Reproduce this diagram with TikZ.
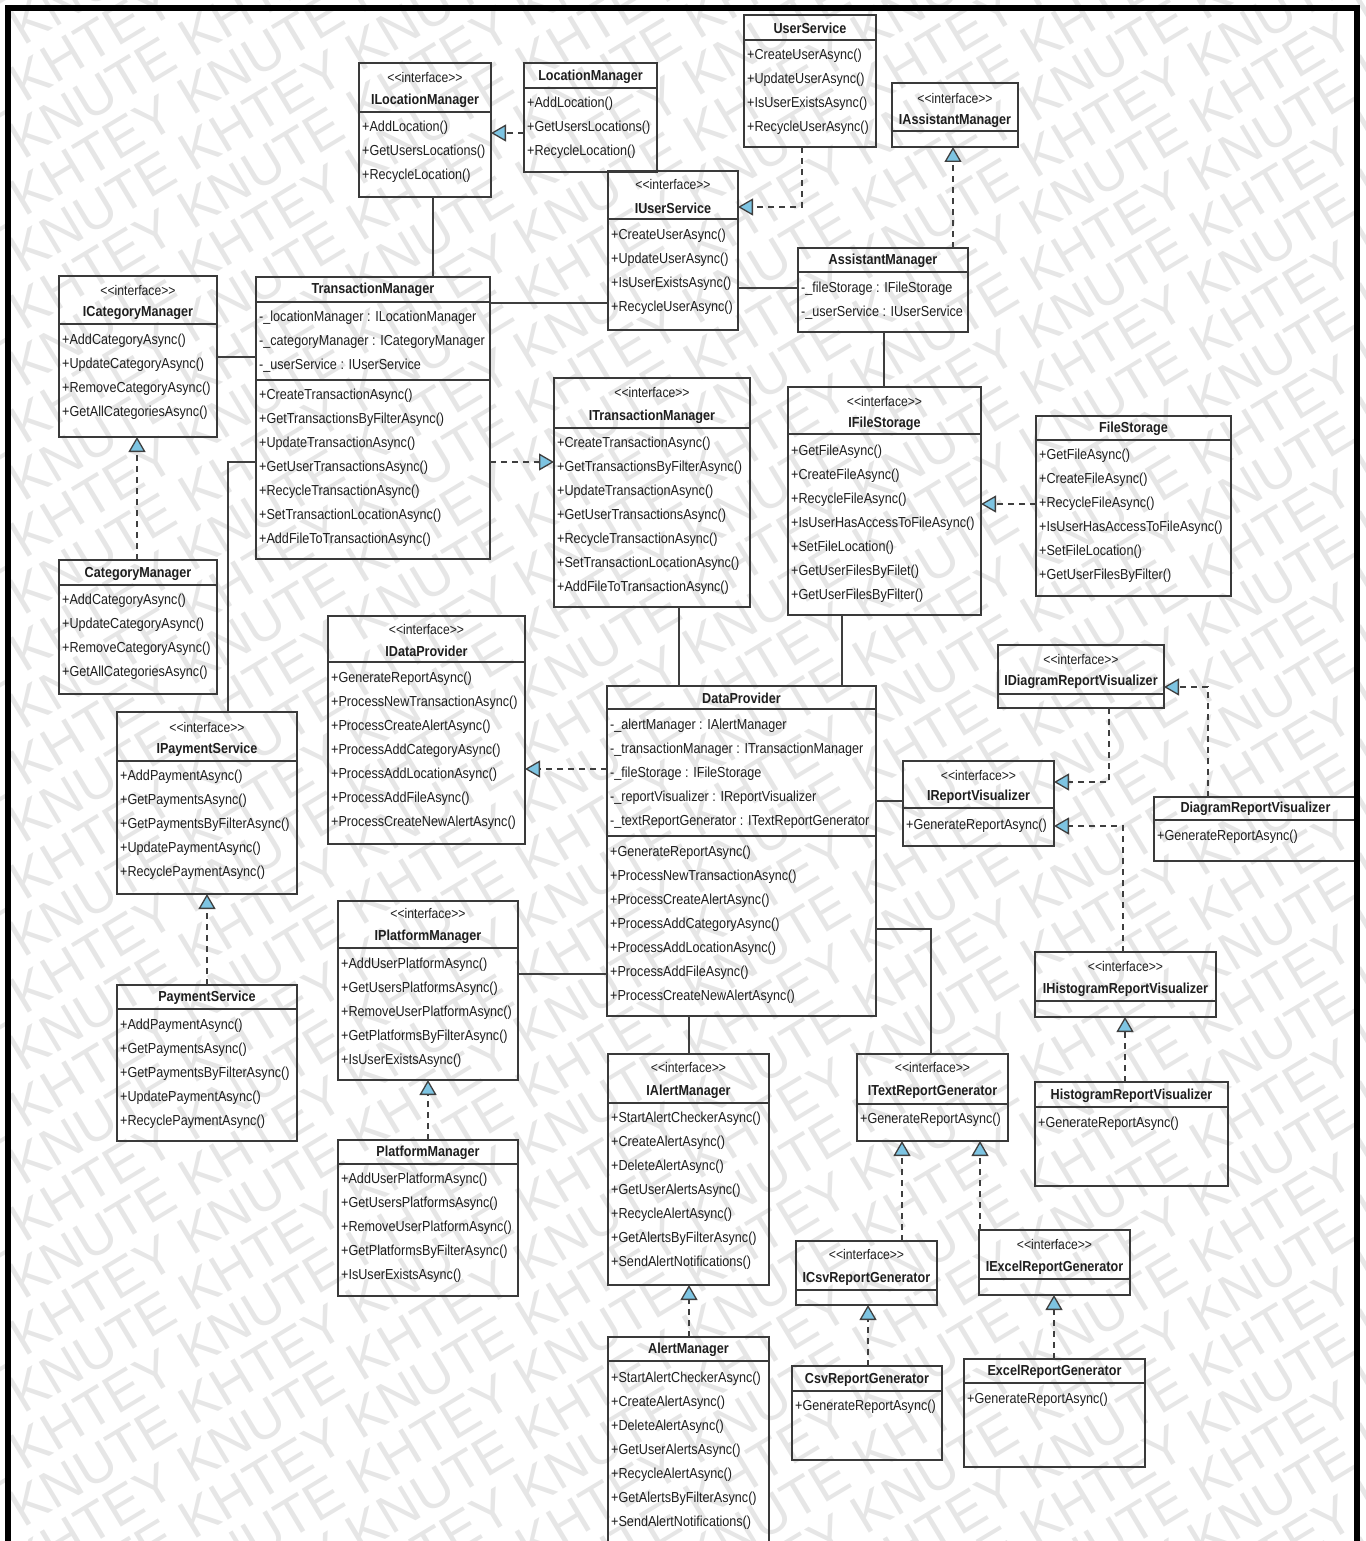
\documentclass[tikz,border=0pt]{standalone}
\usepackage{fontspec}
\usetikzlibrary{arrows.meta}

\newfontfamily\umlfont{Liberation Sans}[FakeStretch=0.87]
\newfontfamily\markfont{Liberation Sans}

\definecolor{boxline}{HTML}{3A3A3A}
\definecolor{conn}{HTML}{3F3F3F}
\definecolor{txt}{HTML}{1E1E1E}
\definecolor{triblue}{RGB}{125,196,226}
\definecolor{markgray}{HTML}{E6E6E6}

\tikzset{
  box/.style={draw=boxline, line width=1.8pt, anchor=north west, inner sep=0pt, outer sep=0pt},
  rule/.style={draw=boxline, line width=1.8pt},
  stereo/.style={font=\umlfont\fontsize{14}{16}\selectfont, text=txt, inner sep=0pt},
  cname/.style={font=\umlfont\bfseries\fontsize{14.5}{17}\selectfont, text=txt, inner sep=0pt},
  member/.style={font=\umlfont\fontsize{14.5}{17}\selectfont, text=txt, inner sep=0pt, anchor=west},
  assoc/.style={draw=conn, line width=1.6pt},
  realize/.style={draw=conn, line width=1.6pt, dash pattern=on 6pt off 5pt,
    -{Triangle[length=15pt, width=17pt, fill=triblue, line width=1.3pt]}},
  wmark/.style={rotate=31, text=markgray, font=\markfont\fontsize{54}{54}\selectfont, inner sep=0pt},
}

% class box: id, left, top, right, bottom, y of the rule under the header
\newcommand{\umlclass}[6]{%
  \node[box, minimum width={(#4-#2)*1pt}, minimum height={(#5-#3)*1pt}] (#1) at (#2,#3) {};
  \draw[rule] (#2,#6) -- (#4,#6);
}
\newcommand{\stereotype}[2]{\node[stereo] (#1-st) at (#1.north |- 0,#2) {<\kern0pt<interface>\kern0pt>};}
\newcommand{\classname}[3]{\node[cname] (#1-nm) at (#1.north |- 0,#2) {#3};}
% member rows: id, tag, left, first y, list
\newcommand{\members}[5]{%
  \foreach \mtext [count=\k from 0] in {#5} {
    \node[member] (#1-#2\k) at ({#3+3},{#4+24*\k}) {\mtext};
  }
}

\begin{document}
\begin{tikzpicture}[x=1pt, y=-1pt]
\useasboundingbox (0,0) rectangle (1365,1541);

% background stamp: diagonal rows of light lettering
\begin{scope}
  \clip (0,0) rectangle (1365,1541);
  \foreach \r in {-22,...,22} {
    \pgfmathsetmacro\sh{mod(\r+100,2)*196}
    \node[wmark] (wm\r) at ({682+\sh*cos(31)}, {770+57*\r-\sh*sin(31)})
      {KNUTE KHTEY KNUTE KHTEY KNUTE KHTEY KNUTE KHTEY KNUTE KHTEY KNUTE KHTEY};
  }
\end{scope}

% ---------- top row ----------
\umlclass{ilm}{359}{63}{491}{197}{112}
\stereotype{ilm}{77}\classname{ilm}{101}{ILocationManager}
\members{ilm}{m}{359}{128}{+AddLocation(), +GetUsersLocations(), +RecycleLocation()}

\umlclass{lm}{524}{63}{657}{172}{88}
\classname{lm}{77}{LocationManager}
\members{lm}{m}{524}{104}{+AddLocation(), +GetUsersLocations(), +RecycleLocation()}

\umlclass{us}{744}{15}{876}{147}{40}
\classname{us}{28}{UserService}
\members{us}{m}{744}{56}{+CreateUserAsync(), +UpdateUserAsync(), +IsUserExistsAsync(), +RecycleUserAsync()}

\umlclass{ius}{608}{171}{738}{330}{219}
\stereotype{ius}{184}\classname{ius}{208}{IUserService}
\members{ius}{m}{608}{236}{+CreateUserAsync(), +UpdateUserAsync(), +IsUserExistsAsync(), +RecycleUserAsync()}

\umlclass{iam}{892}{83}{1018}{147}{131}
\stereotype{iam}{98}\classname{iam}{121}{IAssistantManager}

\umlclass{am}{798}{248}{968}{332}{272}
\classname{am}{261}{AssistantManager}
\members{am}{a}{798}{289}{-\_fileStorage : IFileStorage, -\_userService : IUserService}

% ---------- managers ----------
\umlclass{icm}{59}{276}{217}{437}{324}
\stereotype{icm}{290}\classname{icm}{313}{ICategoryManager}
\members{icm}{m}{59}{341}{+AddCategoryAsync(), +UpdateCategoryAsync(), +RemoveCategoryAsync(), +GetAllCategoriesAsync()}

\umlclass{tm}{256}{277}{490}{559}{302}
\draw[rule] (256,380) -- (490,380);
\classname{tm}{290}{TransactionManager}
\members{tm}{a}{256}{318}{-\_locationManager : ILocationManager, -\_categoryManager : ICategoryManager, -\_userService : IUserService}
\members{tm}{m}{256}{396}{+CreateTransactionAsync(), +GetTransactionsByFilterAsync(), +UpdateTransactionAsync(), +GetUserTransactionsAsync(), +RecycleTransactionAsync(), +SetTransactionLocationAsync(), +AddFileToTransactionAsync()}

\umlclass{itm}{554}{378}{750}{607}{428}
\stereotype{itm}{392}\classname{itm}{417}{ITransactionManager}
\members{itm}{m}{554}{444}{+CreateTransactionAsync(), +GetTransactionsByFilterAsync(), +UpdateTransactionAsync(), +GetUserTransactionsAsync(), +RecycleTransactionAsync(), +SetTransactionLocationAsync(), +AddFileToTransactionAsync()}

\umlclass{ifs}{788}{387}{981}{615}{434}
\stereotype{ifs}{401}\classname{ifs}{424}{IFileStorage}
\members{ifs}{m}{788}{452}{+GetFileAsync(), +CreateFileAsync(), +RecycleFileAsync(), +IsUserHasAccessToFileAsync(), +SetFileLocation(), +GetUserFilesByFilet(), +GetUserFilesByFilter()}

\umlclass{fs}{1036}{416}{1231}{596}{440}
\classname{fs}{429}{FileStorage}
\members{fs}{m}{1036}{456}{+GetFileAsync(), +CreateFileAsync(), +RecycleFileAsync(), +IsUserHasAccessToFileAsync(), +SetFileLocation(), +GetUserFilesByFilter()}

\umlclass{cm}{59}{560}{217}{694}{585}
\classname{cm}{574}{CategoryManager}
\members{cm}{m}{59}{601}{+AddCategoryAsync(), +UpdateCategoryAsync(), +RemoveCategoryAsync(), +GetAllCategoriesAsync()}

% ---------- data provider ----------
\umlclass{idp}{328}{616}{525}{844}{662}
\stereotype{idp}{629}\classname{idp}{651}{IDataProvider}
\members{idp}{m}{328}{679}{+GenerateReportAsync(), +ProcessNewTransactionAsync(), +ProcessCreateAlertAsync(), +ProcessAddCategoryAsync(), +ProcessAddLocationAsync(), +ProcessAddFileAsync(), +ProcessCreateNewAlertAsync()}

\umlclass{dp}{607}{686}{876}{1016}{709}
\draw[rule] (607,836) -- (876,836);
\classname{dp}{698}{DataProvider}
\members{dp}{a}{607}{726}{-\_alertManager : IAlertManager, -\_transactionManager : ITransactionManager, -\_fileStorage : IFileStorage, -\_reportVisualizer : IReportVisualizer, -\_textReportGenerator : ITextReportGenerator}
\members{dp}{m}{607}{853}{+GenerateReportAsync(), +ProcessNewTransactionAsync(), +ProcessCreateAlertAsync(), +ProcessAddCategoryAsync(), +ProcessAddLocationAsync(), +ProcessAddFileAsync(), +ProcessCreateNewAlertAsync()}

% ---------- payments and platforms ----------
\umlclass{ips}{117}{712}{297}{894}{761}
\stereotype{ips}{727}\classname{ips}{750}{IPaymentService}
\members{ips}{m}{117}{777}{+AddPaymentAsync(), +GetPaymentsAsync(), +GetPaymentsByFilterAsync(), +UpdatePaymentAsync(), +RecyclePaymentAsync()}

\umlclass{ps}{117}{985}{297}{1141}{1009}
\classname{ps}{998}{PaymentService}
\members{ps}{m}{117}{1026}{+AddPaymentAsync(), +GetPaymentsAsync(), +GetPaymentsByFilterAsync(), +UpdatePaymentAsync(), +RecyclePaymentAsync()}

\umlclass{ipm}{338}{901}{518}{1080}{948}
\stereotype{ipm}{913}\classname{ipm}{937}{IPlatformManager}
\members{ipm}{m}{338}{965}{+AddUserPlatformAsync(), +GetUsersPlatformsAsync(), +RemoveUserPlatformAsync(), +GetPlatformsByFilterAsync(), +IsUserExistsAsync()}

\umlclass{pm}{338}{1140}{518}{1296}{1164}
\classname{pm}{1153}{PlatformManager}
\members{pm}{m}{338}{1180}{+AddUserPlatformAsync(), +GetUsersPlatformsAsync(), +RemoveUserPlatformAsync(), +GetPlatformsByFilterAsync(), +IsUserExistsAsync()}

% ---------- alerts ----------
\umlclass{ialm}{608}{1054}{769}{1285}{1103}
\stereotype{ialm}{1067}\classname{ialm}{1092}{IAlertManager}
\members{ialm}{m}{608}{1119}{+StartAlertCheckerAsync(), +CreateAlertAsync(), +DeleteAlertAsync(), +GetUserAlertsAsync(), +RecycleAlertAsync(), +GetAlertsByFilterAsync(), +SendAlertNotifications()}

\umlclass{alm}{608}{1337}{769}{1570}{1361}
\classname{alm}{1350}{AlertManager}
\members{alm}{m}{608}{1379}{+StartAlertCheckerAsync(), +CreateAlertAsync(), +DeleteAlertAsync(), +GetUserAlertsAsync(), +RecycleAlertAsync(), +GetAlertsByFilterAsync(), +SendAlertNotifications()}

% ---------- report generators ----------
\umlclass{itrg}{857}{1054}{1008}{1141}{1104}
\stereotype{itrg}{1067}\classname{itrg}{1092}{ITextReportGenerator}
\members{itrg}{m}{857}{1120}{+GenerateReportAsync()}

\umlclass{icsv}{796}{1241}{937}{1305}{1290}
\stereotype{icsv}{1254}\classname{icsv}{1279}{ICsvReportGenerator}

\umlclass{csv}{792}{1366}{942}{1460}{1391}
\classname{csv}{1380}{CsvReportGenerator}
\members{csv}{m}{792}{1407}{+GenerateReportAsync()}

\umlclass{iexl}{979}{1230}{1130}{1295}{1279}
\stereotype{iexl}{1244}\classname{iexl}{1268}{IExcelReportGenerator}

\umlclass{exl}{964}{1359}{1145}{1467}{1383}
\classname{exl}{1372}{ExcelReportGenerator}
\members{exl}{m}{964}{1400}{+GenerateReportAsync()}

% ---------- report visualizers ----------
\umlclass{ihrv}{1035}{952}{1216}{1017}{1001}
\stereotype{ihrv}{966}\classname{ihrv}{990}{IHistogramReportVisualizer}

\umlclass{hrv}{1035}{1082}{1228}{1186}{1107}
\classname{hrv}{1096}{HistogramReportVisualizer}
\members{hrv}{m}{1035}{1124}{+GenerateReportAsync()}

\umlclass{irv}{903}{761}{1054}{846}{808}
\stereotype{irv}{775}\classname{irv}{797}{IReportVisualizer}
\members{irv}{m}{903}{826}{+GenerateReportAsync()}

\umlclass{idrv}{998}{645}{1164}{708}{694}
\stereotype{idrv}{659}\classname{idrv}{682}{IDiagramReportVisualizer}

\umlclass{drv}{1154}{797}{1357}{861}{820}
\classname{drv}{809}{DiagramReportVisualizer}
\members{drv}{m}{1154}{837}{+GenerateReportAsync()}

% ---------- associations ----------
\draw[assoc] (ilm.south -| 433,0) -- (tm.north -| 433,0);
\draw[assoc] (tm.east |- 0,303) -- (ius.west |- 0,303);
\draw[assoc] (ius.east |- 0,288) -- (am.west |- 0,288);
\draw[assoc] (am.south -| 884,0) -- (ifs.north -| 884,0);
\draw[assoc] (icm.east |- 0,357) -- (tm.west |- 0,357);
\draw[assoc] (tm.west |- 0,462) -| (ips.north -| 228,0);
\draw[assoc] (itm.south -| 679,0) -- (dp.north -| 679,0);
\draw[assoc] (ifs.south -| 842,0) -- (dp.north -| 842,0);
\draw[assoc] (dp.east |- 0,801) -- (irv.west |- 0,801);
\draw[assoc] (dp.east |- 0,929) -| (itrg.north -| 931,0);
\draw[assoc] (dp.south -| 689,0) -- (ialm.north -| 689,0);
\draw[assoc] (ipm.east |- 0,974) -- (dp.west |- 0,974);

% ---------- realizations ----------
\draw[realize] (lm.west |- 0,133) -- (ilm.east |- 0,133);
\draw[realize] (us.south -| 802,0) |- (ius.east |- 0,207);
\draw[realize] (am.north -| 953,0) -- (iam.south -| 953,0);
\draw[realize] (cm.north -| 137,0) -- (icm.south -| 137,0);
\draw[realize] (tm.east |- 0,462) -- (itm.west |- 0,462);
\draw[realize] (fs.west |- 0,504) -- (ifs.east |- 0,504);
\draw[realize] (dp.west |- 0,769) -- (idp.east |- 0,769);
\draw[realize] (ps.north -| 207,0) -- (ips.south -| 207,0);
\draw[realize] (pm.north -| 428,0) -- (ipm.south -| 428,0);
\draw[realize] (alm.north -| 689,0) -- (ialm.south -| 689,0);
\draw[realize] (icsv.north -| 902,0) -- (itrg.south -| 902,0);
\draw[realize] (iexl.north -| 980,0) -- (itrg.south -| 980,0);
\draw[realize] (csv.north -| 868,0) -- (icsv.south -| 868,0);
\draw[realize] (exl.north -| 1054,0) -- (iexl.south -| 1054,0);
\draw[realize] (hrv.north -| 1125,0) -- (ihrv.south -| 1125,0);
\draw[realize] (ihrv.north -| 1123,0) |- (irv.east |- 0,826);
\draw[realize] (idrv.south -| 1109,0) |- (irv.east |- 0,782);
\draw[realize] (drv.north -| 1208,0) |- (idrv.east |- 0,687);

% ---------- frame ----------
\draw[line width=6pt, line join=miter] (8,1600) -- (8,8.5) -- (1357,8.5) -- (1357,1600);
\end{tikzpicture}
\end{document}
